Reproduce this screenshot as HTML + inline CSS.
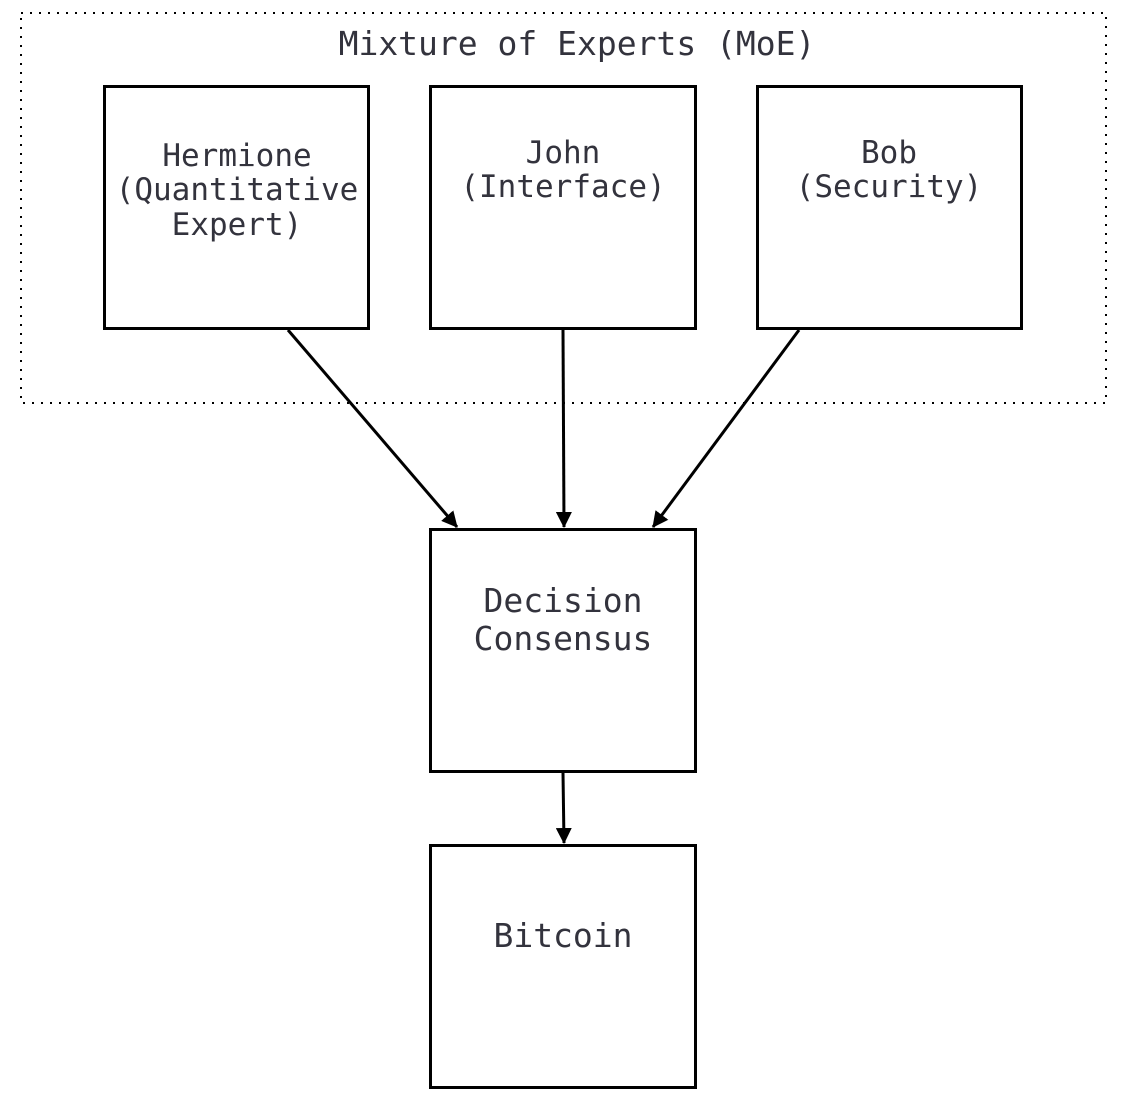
<!DOCTYPE html>
<html><head><style>
body{margin:0;background:#fff;}
svg text{font-family:"DejaVu Sans Mono","Liberation Mono",monospace;fill:#33333d;text-anchor:middle;}
</style></head><body>
<svg width="1128" height="1106" xmlns="http://www.w3.org/2000/svg">
<defs>
<marker id="b" markerWidth="16" markerHeight="16" refX="15" refY="8" orient="auto" markerUnits="userSpaceOnUse" viewBox="0 0 16 16"><path d="M0,0 L16,8 L0,16 z" fill="#000"/></marker></defs>
<rect x="21" y="13" width="1085" height="390" fill="none" stroke="#000" stroke-width="2" stroke-dasharray="2,7"/>
<text x="577" y="55" font-size="33">Mixture of Experts (MoE)</text>
<g fill="#fff" stroke="#000" stroke-width="3">
<rect x="104.5" y="86.5" width="264" height="242"/>
<rect x="430.5" y="86.5" width="265" height="242"/>
<rect x="757.5" y="86.5" width="264" height="242"/>
<rect x="430.5" y="529.5" width="265" height="242"/>
<rect x="430.5" y="845.5" width="265" height="242"/>
</g>
<g font-size="31">
<text x="237" y="166">Hermione</text>
<text x="237" y="200">(Quantitative</text>
<text x="237" y="235">Expert)</text>
<text x="563" y="163">John</text>
<text x="563" y="197">(Interface)</text>
<text x="889" y="163">Bob</text>
<text x="889" y="197">(Security)</text>
</g>
<g font-size="33">
<text x="563" y="612">Decision</text>
<text x="563" y="650">Consensus</text>
<text x="563" y="947">Bitcoin</text>
</g>
<g stroke="#000" stroke-width="3" fill="none">
<line x1="288" y1="330" x2="457" y2="527" marker-end="url(#b)"/>
<line x1="563" y1="330" x2="564" y2="527" marker-end="url(#b)"/>
<line x1="799" y1="330" x2="653" y2="527" marker-end="url(#b)"/>
<line x1="563" y1="773" x2="564" y2="843" marker-end="url(#b)"/>
</g>
</svg>
</body></html>
